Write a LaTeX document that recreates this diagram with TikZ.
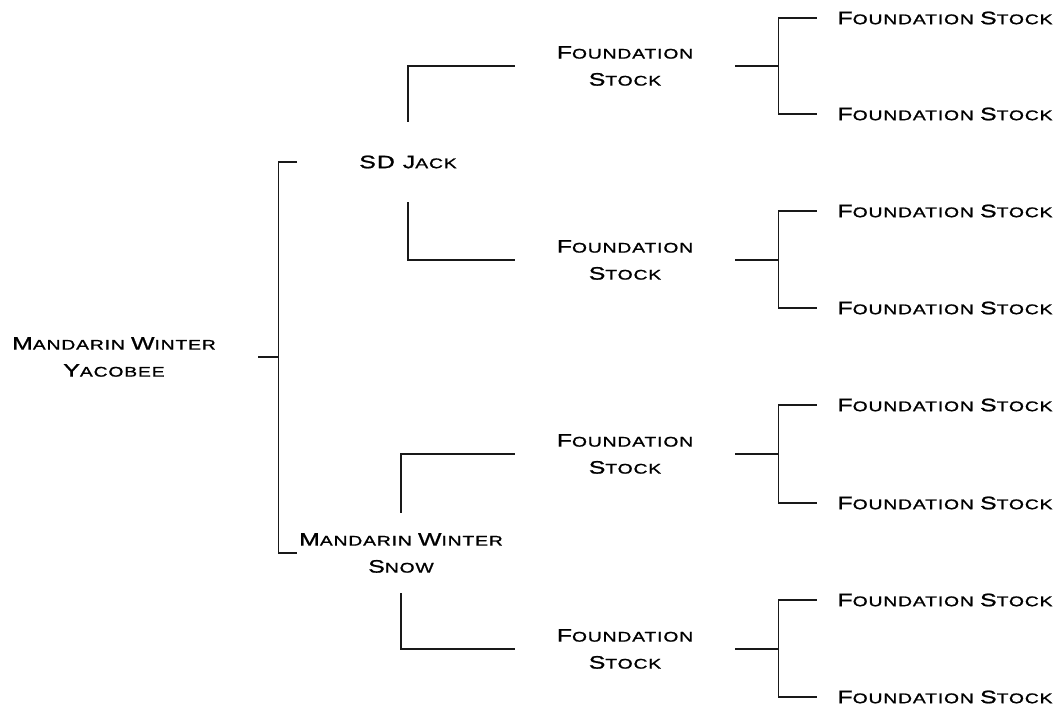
\documentclass[tikz,border=0pt]{standalone}
\usepackage{fontspec}
\newfontfamily\copper[FakeStretch=1.38,LetterSpace=6,FakeBold=1.2]{Liberation Sans}
\newcommand{\sml}[2]{{\fontsize{18}{27}\selectfont #1}#2}
\newcommand{\fstock}{\sml{F}{OUNDATION} \sml{S}{TOCK}}

\begin{document}
\begin{tikzpicture}[x=1pt,y=-1pt,
  every node/.style={font=\copper\fontsize{14}{27}\selectfont, align=center, inner sep=0pt},
  tline/.style={line width=1.4pt, black!90}]
  \useasboundingbox (0,0) rectangle (1060,707);

  \node[minimum width=288] (root) at (114,357) {\sml{M}{ANDARIN} \sml{W}{INTER}\\\sml{Y}{ACOBEE}};
  \node[minimum height=80] (jack) at (408,162) {\sml{SD J}{ACK}};
  \node[minimum height=80] (snow) at (401,553) {\sml{M}{ANDARIN} \sml{W}{INTER}\\\sml{S}{NOW}};

  \foreach \i/\y in {1/66, 2/260, 3/454, 4/649}
    \node[minimum width=220] (f\i) at (625,\y) {\sml{F}{OUNDATION}\\\sml{S}{TOCK}};
  \foreach \i/\y in {1/18, 2/114, 3/211, 4/308, 5/405, 6/503, 7/600, 8/697}
    \node[minimum width=256] (l\i) at (945,\y) {\fstock};

  \draw[tline] (root.east) -- ++(20,0) coordinate (rb);
  \draw[tline] ([xshift=-111]jack.center) -| (rb) |- ([xshift=-104]snow.center);
  \draw[tline] (jack.north) |- (f1.west);
  \draw[tline] (jack.south) |- (f2.west);
  \draw[tline] (snow.north) |- (f3.west);
  \draw[tline] (snow.south) |- (f4.west);

  \foreach \i/\a/\b in {1/1/2, 2/3/4, 3/5/6, 4/7/8} {
    \draw[tline] (f\i.east) -- ++(43,0) coordinate (b\i);
    \draw[tline] (l\a.west) -| (b\i) |- (l\b.west);
  }
\end{tikzpicture}
\end{document}
